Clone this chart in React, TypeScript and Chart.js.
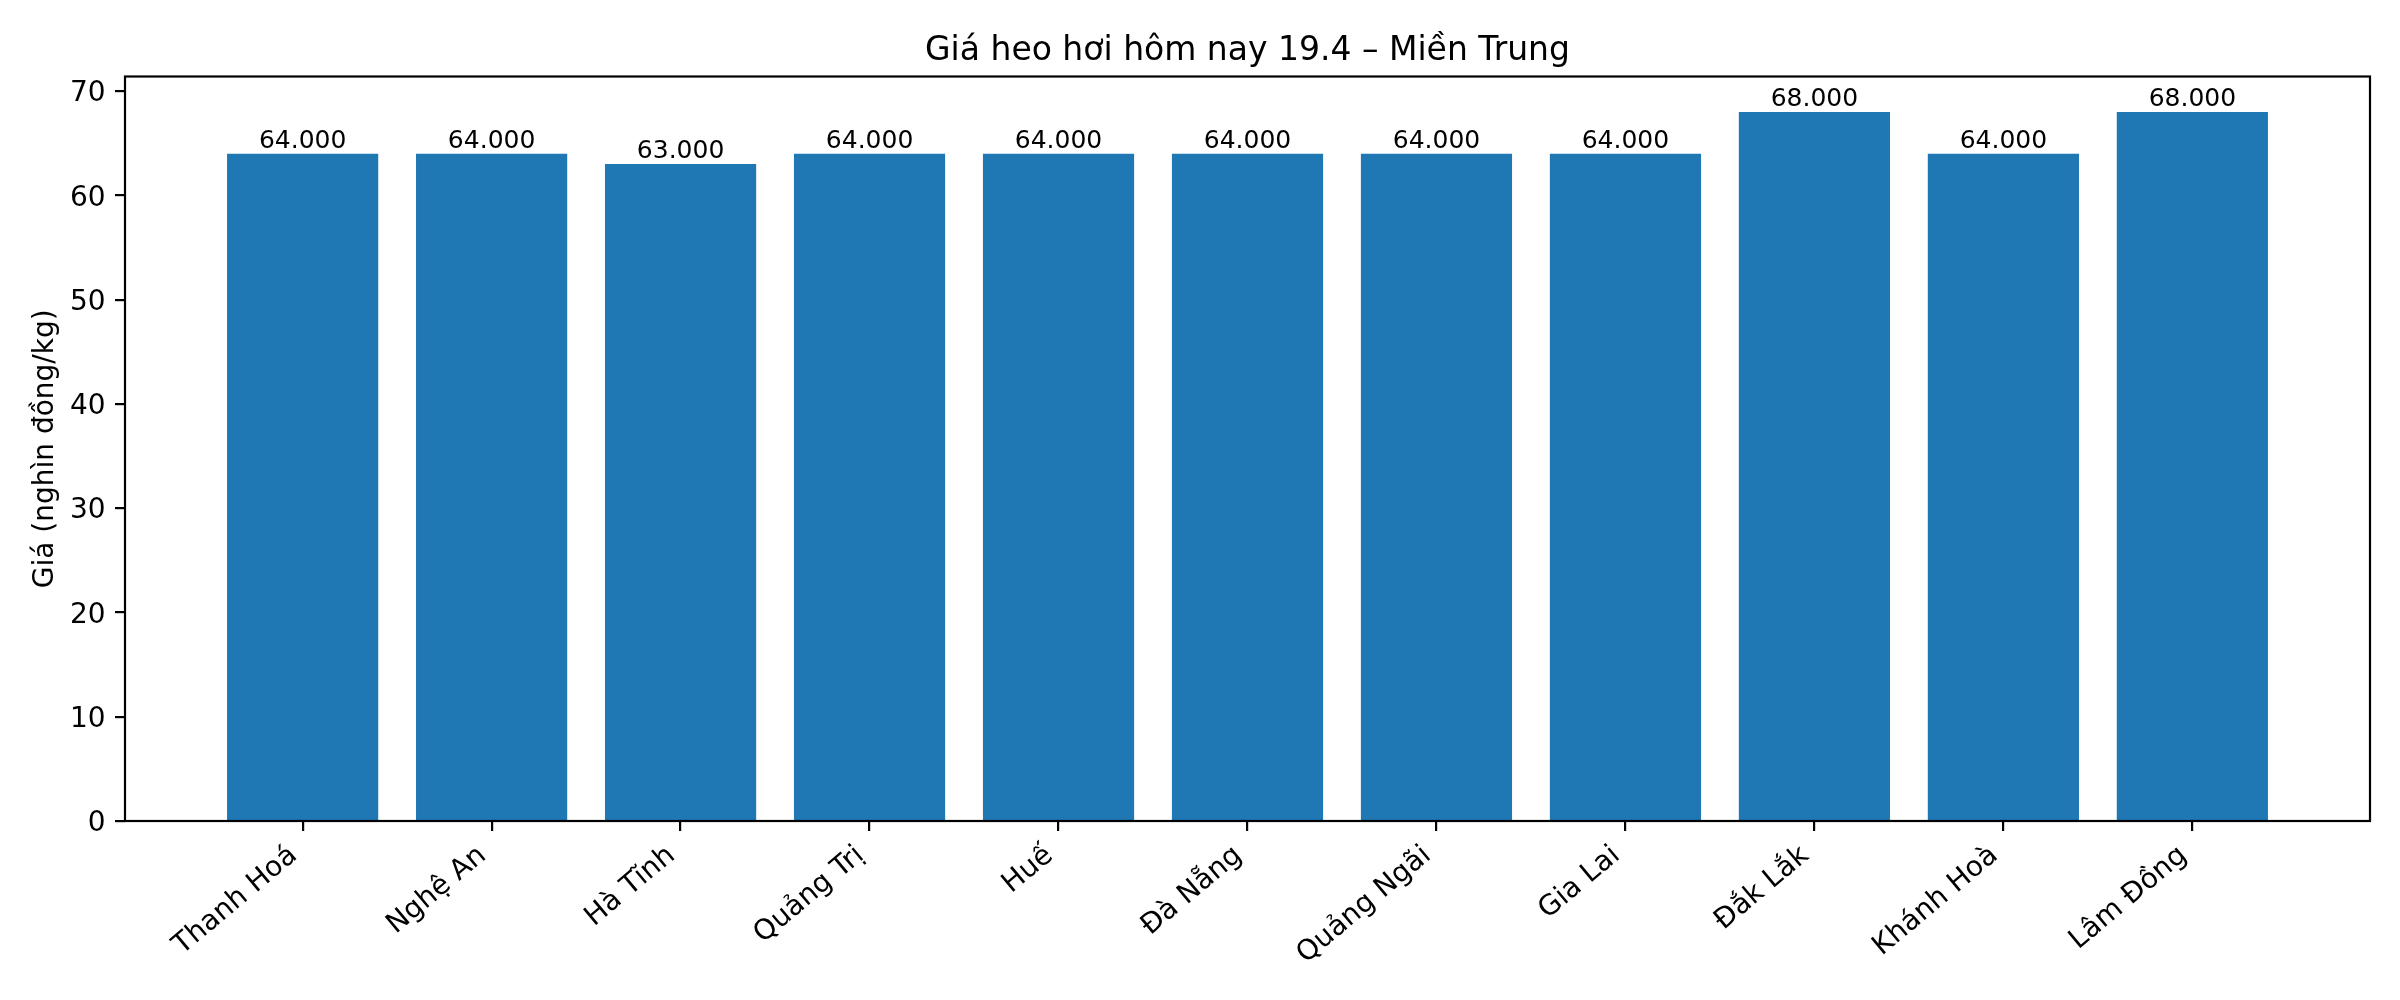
import React, { useEffect, useRef } from "react";
import { Chart, registerables } from "chart.js";

Chart.register(...registerables);

const categories = [
  "Thanh Hoá",
  "Nghệ An",
  "Hà Tĩnh",
  "Quảng Trị",
  "Huế",
  "Đà Nẵng",
  "Quảng Ngãi",
  "Gia Lai",
  "Đắk Lắk",
  "Khánh Hoà",
  "Lâm Đồng",
];
const prices = [64, 64, 63, 64, 64, 64, 64, 64, 68, 64, 68];
const yTicks = [0, 10, 20, 30, 40, 50, 60, 70];
const titleText = "Giá heo hơi hôm nay 19.4 – Miền Trung";
const yAxisTitle = "Giá (nghìn đồng/kg)";

const FONT = "'DejaVu Sans', sans-serif";
const BAR_COLOR = "#1f77b4";

const decor = {
  id: "decor",
  afterDatasetsDraw(chart: any) {
    const { ctx, chartArea: a } = chart;
    ctx.save();
    // value labels
    const meta = chart.getDatasetMeta(0);
    ctx.fillStyle = "#000";
    ctx.font = `25px ${FONT}`;
    ctx.textAlign = "center";
    ctx.textBaseline = "alphabetic";
    meta.data.forEach((el: any, i: number) => {
      ctx.fillText(prices[i].toFixed(3), el.x, el.y - 6);
    });
    // frame
    ctx.strokeStyle = "#000";
    ctx.lineWidth = 2.2;
    ctx.strokeRect(a.left, a.top, a.right - a.left, a.bottom - a.top);
    // title
    ctx.font = `33px ${FONT}`;
    ctx.textAlign = "center";
    ctx.fillText(titleText, (a.left + a.right) / 2, a.top - 16.7);
    // y axis title
    ctx.save();
    ctx.translate(53, (a.top + a.bottom) / 2);
    ctx.rotate(-Math.PI / 2);
    ctx.font = `28px ${FONT}`;
    ctx.textAlign = "center";
    ctx.fillText(yAxisTitle, 0, 0);
    ctx.restore();
    // y tick labels
    const ys = chart.scales.y;
    ctx.font = `28px ${FONT}`;
    ctx.textAlign = "right";
    yTicks.forEach((v) => {
      const py = ys.getPixelForValue(v);
      ctx.fillText(String(v), a.left - 9.7 - 9.7, py + 0.729 * 28 / 2);
    });
    // x tick labels (rotated 40°, right aligned like matplotlib)
    const xs = chart.scales.x;
    const th = (40 * Math.PI) / 180;
    const fs = 28;
    const asc = 0.8 * fs;
    const desc = 0.24 * fs;
    const top = a.bottom + 9.7 + 9.7;
    ctx.font = `${fs}px ${FONT}`;
    ctx.textAlign = "right";
    categories.forEach((c, i) => {
      const px = xs.getPixelForValue(i);
      ctx.save();
      ctx.translate(px - desc * Math.sin(th), top + asc * Math.cos(th));
      ctx.rotate(-th);
      ctx.fillText(c, 0, 0);
      ctx.restore();
    });
    ctx.restore();
  },
};

export default function App() {
  const ref = useRef<HTMLCanvasElement | null>(null);

  useEffect(() => {
    if (!ref.current) return;
    const chart = new Chart(ref.current, {
      type: "bar",
      data: {
        datasets: [
          {
            data: prices.map((v, i) => ({ x: i, y: v })),
            backgroundColor: BAR_COLOR,
            borderWidth: 0,
            barPercentage: 0.8,
            categoryPercentage: 1,
          },
        ],
      },
      options: {
        animation: false,
        responsive: false,
        devicePixelRatio: 1,
        layout: { padding: { left: 0, right: 30, top: 76.5, bottom: 0 } },
        plugins: {
          legend: { display: false },
          title: { display: false },
          tooltip: { enabled: false },
        },
        scales: {
          x: {
            type: "linear",
            min: -0.94,
            max: 10.94,
            offset: false,
            grid: {
              offset: false,
              drawOnChartArea: false,
              drawTicks: true,
              tickLength: 10,
              color: "#000",
              lineWidth: 2.2,
            },
            border: { display: false },
            ticks: { display: false },
            afterBuildTicks: (s: any) => {
              s.ticks = categories.map((_, i) => ({ value: i }));
            },
            afterFit: (s: any) => {
              s.height = 179;
            },
          },
          y: {
            type: "linear",
            min: 0,
            max: 71.4,
            grid: {
              drawOnChartArea: false,
              drawTicks: true,
              tickLength: 10,
              color: "#000",
              lineWidth: 2.2,
            },
            border: { display: false },
            ticks: { display: false },
            afterBuildTicks: (s: any) => {
              s.ticks = yTicks.map((v) => ({ value: v }));
            },
            afterFit: (s: any) => {
              s.width = 125;
            },
          },
        },
      } as any,
      plugins: [decor],
    });
    return () => chart.destroy();
  }, []);

  return (
    <div style={{ position: "absolute", left: 0, top: 0, width: 2400, height: 1000, background: "#fff" }}>
      <canvas ref={ref} width={2400} height={1000} style={{ width: 2400, height: 1000, display: "block" }} />
    </div>
  );
}
